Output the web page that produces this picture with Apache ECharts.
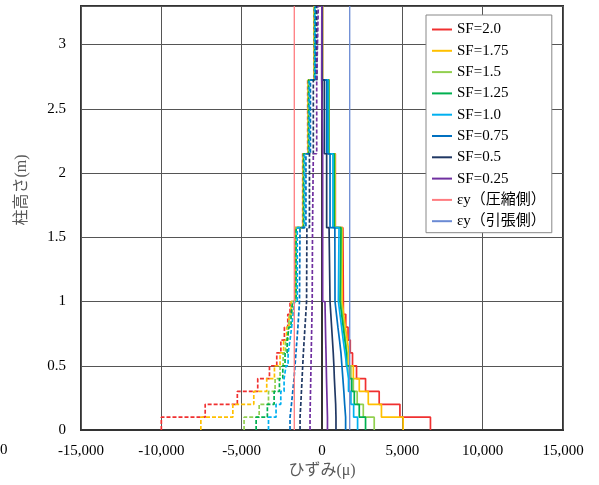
<!DOCTYPE html>
<html>
<head>
<meta charset="utf-8">
<script src="https://cdn.jsdelivr.net/npm/echarts@6/dist/echarts.min.js"></script>
<style>
  html, body { margin: 0; padding: 0; background: #fff; }
  #chart { width: 599px; height: 485px; }
</style>
</head>
<body>
<div id="chart"></div>
<script>
// Segment boundaries along the column height (m): 0.1 m steps up to 1.0 m, then 4 longer segments
const heights = [0, 0.1, 0.2, 0.3, 0.4, 0.5, 0.6, 0.7, 0.8, 0.9, 1.0, 1.575, 2.15, 2.725, 3.3];

// Axis ticks
const xTicks = [-15000, -10000, -5000, 0, 5000, 10000, 15000];
const yTicks = [0, 0.5, 1, 1.5, 2, 2.5, 3];

// Yield strain (μ)
const epsY = 1725;

// Series names
const sfNames = ['SF=2.0', 'SF=1.75', 'SF=1.5', 'SF=1.25', 'SF=1.0', 'SF=0.75', 'SF=0.5', 'SF=0.25'];
const epsNames = ['εy（圧縮側）', 'εy（引張側）'];

// Compression-side strain per segment (bottom to top)
const sf200Comp = [-10000, -7270, -5270, -4000, -3270, -2815, -2560, -2340, -2130, -1990, -1690, -1200, -890, -500];
const sf175Comp = [-7540, -5550, -4245, -3440, -2960, -2610, -2390, -2200, -2050, -1925, -1660, -1180, -870, -490];
const sf150Comp = [-4850, -3910, -3330, -2920, -2610, -2420, -2270, -2110, -1990, -1860, -1640, -1160, -850, -475];
const sf125Comp = [-4100, -3400, -2980, -2650, -2440, -2300, -2170, -2050, -1925, -1820, -1610, -1140, -830, -460];
const sf100Comp = [-3330, -2860, -2565, -2360, -2236, -2110, -1990, -1890, -1800, -1710, -1540, -1090, -790, -440];
const sf075Comp = [-1990, -1900, -1820, -1740, -1680, -1620, -1560, -1500, -1450, -1400, -1370, -1000, -720, -400];
const sf050Comp = [-1366, -1320, -1280, -1240, -1200, -1160, -1110, -1060, -1010, -960, -940, -780, -540, -320];
const sf025Comp = [-745, -730, -715, -700, -685, -670, -655, -640, -625, -610, -590, -540, -330, -230];

// Tension-side strain per segment (bottom to top)
const sf200Tens = [6750, 4850, 3560, 2710, 2150, 1900, 1760, 1620, 1480, 1330, 1300, 830, 440, 30];
const sf175Tens = [5050, 3700, 2880, 2320, 1950, 1680, 1570, 1460, 1350, 1250, 1260, 810, 435, 25];
const sf150Tens = [3250, 2570, 2190, 1950, 1800, 1560, 1460, 1370, 1270, 1180, 1220, 790, 425, 20];
const sf125Tens = [2710, 2320, 2010, 1850, 1700, 1520, 1420, 1320, 1220, 1120, 1180, 760, 410, 15];
const sf100Tens = [2215, 1970, 1800, 1650, 1540, 1430, 1320, 1220, 1120, 1020, 1060, 680, 370, 10];
const sf075Tens = [1470, 1410, 1360, 1300, 1240, 1180, 1090, 990, 900, 810, 800, 500, 290, 5];
const sf050Tens = [870, 850, 810, 770, 740, 700, 650, 600, 550, 500, 440, 290, 145, 0];
const sf025Tens = [340, 320, 300, 280, 265, 250, 230, 215, 200, 186, 40, 40, -20, -10];

const compSets = [sf200Comp, sf175Comp, sf150Comp, sf125Comp, sf100Comp, sf075Comp, sf050Comp, sf025Comp];
const tensSets = [sf200Tens, sf175Tens, sf150Tens, sf125Tens, sf100Tens, sf075Tens, sf050Tens, sf025Tens];
const sfColors = ['#f03030', '#ffc000', '#92d050', '#00b050', '#00b0f0', '#0070c0', '#203864', '#7030a0'];
const epsColors = ['#ff7c80', '#6a8ad4'];

const serif = "'Liberation Serif', 'Times New Roman', 'Noto Sans CJK JP', serif";

// Turn per-segment strains into a vertical step outline (strain, height)
function stepPoints(vals) {
  const pts = [];
  vals.forEach((v, i) => {
    pts.push([v, heights[i]]);
    pts.push([v, heights[i + 1]]);
  });
  return pts;
}

const series = [];
sfNames.forEach((name, k) => {
  series.push({
    name: name, type: 'line', symbol: 'none', animation: false,
    data: stepPoints(tensSets[k]),
    lineStyle: { color: sfColors[k], width: 1.7 },
    itemStyle: { color: sfColors[k] }
  });
  series.push({
    name: name, type: 'line', symbol: 'none', animation: false,
    data: stepPoints(compSets[k]),
    lineStyle: { color: sfColors[k], width: 1.7, type: [4, 2] },
    itemStyle: { color: sfColors[k] }
  });
});
[-epsY, epsY].forEach((v, k) => {
  series.push({
    name: epsNames[k], type: 'line', symbol: 'none', animation: false,
    data: [[v, heights[0]], [v, heights[heights.length - 1]]],
    lineStyle: { color: epsColors[k], width: 1.3 },
    itemStyle: { color: epsColors[k] }
  });
});

const chart = echarts.init(document.getElementById('chart'), null, { renderer: 'canvas' });
chart.setOption({
  animation: false,
  backgroundColor: '#fff',
  grid: { left: 81, right: 36, top: 6, bottom: 55, show: true, borderColor: '#333', borderWidth: 2, backgroundColor: 'transparent' },
  xAxis: {
    type: 'value',
    min: xTicks[0], max: xTicks[xTicks.length - 1], interval: 5000,
    axisLine: { show: true, lineStyle: { color: '#333', width: 2 } },
    axisTick: { show: false },
    splitLine: { show: true, lineStyle: { color: '#555', width: 1 } },
    axisLabel: {
      margin: 14, color: '#000', fontFamily: serif, fontSize: 15,
      formatter: v => v.toLocaleString('en-US')
    }
  },
  yAxis: {
    type: 'value',
    min: 0, max: heights[heights.length - 1], interval: 0.5,
    axisLine: { show: true, lineStyle: { color: '#333', width: 2 } },
    axisTick: { show: false },
    splitLine: { show: true, lineStyle: { color: '#555', width: 1 } },
    axisLabel: {
      margin: 15, color: '#000', fontFamily: serif, fontSize: 15,
      showMaxLabel: false,
      formatter: v => (yTicks.indexOf(v) >= 0 ? String(v) : '')
    }
  },
  legend: {
    orient: 'vertical',
    left: 426, top: 15,
    backgroundColor: '#fff',
    borderColor: '#888', borderWidth: 1,
    padding: [6, 6, 3, 6],
    itemWidth: 20, itemHeight: 2, itemGap: 4.3,
    icon: 'rect',
    data: sfNames.concat(epsNames),
    textStyle: { fontFamily: serif, fontSize: 15, color: '#000', lineHeight: 17 }
  },
  graphic: [
    {
      type: 'text', left: 0, top: 443,
      style: { text: '0', font: "15px " + serif, fill: '#000' }
    },
    {
      type: 'text', x: 22, y: 190, rotation: Math.PI / 2,
      style: { text: '柱高さ(m)', font: "16px " + serif, fill: '#595959', align: 'center', verticalAlign: 'middle' }
    },
    {
      type: 'text', x: 322, y: 471,
      style: { text: 'ひずみ(μ)', font: "16px " + serif, fill: '#595959', align: 'center', verticalAlign: 'middle' }
    }
  ],
  series: series
});
</script>
</body>
</html>
